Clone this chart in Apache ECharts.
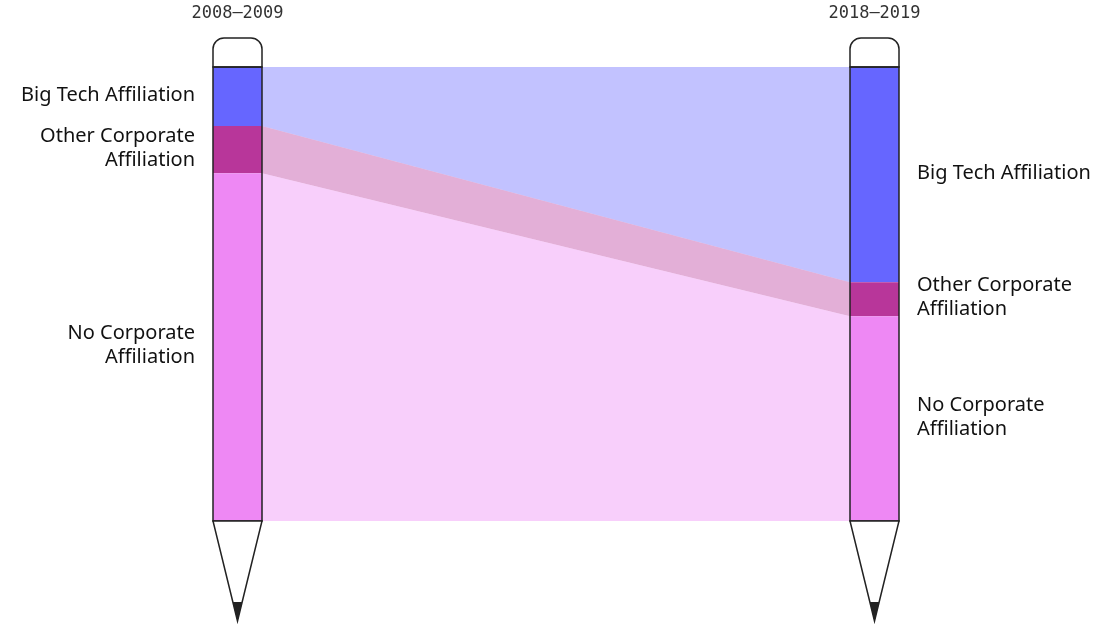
<!DOCTYPE html>
<html>
<head>
<meta charset="utf-8">
<script src="https://cdn.jsdelivr.net/npm/echarts@6/dist/echarts.min.js"></script>
<style>
    html, body { margin: 0; padding: 0; background: #ffffff; }
    #chart { width: 1101px; height: 628px; }
</style>
</head>
<body>
<div id="chart"></div>
<script>
    // periods on the x axis, one pencil each
    const periods = ['2008–2009', '2018–2019'];
    const categories = ['Big Tech Affiliation', 'Other Corporate Affiliation', 'No Corporate Affiliation'];
    const categoryLabels = ['Big Tech Affiliation', 'Other Corporate\nAffiliation', 'No Corporate\nAffiliation'];
    // share of papers (%) per category, top to bottom
    const share2008 = [13.0, 10.4, 76.6];
    const share2018 = [47.4, 7.5, 45.1];
    const colors = ['#6666ff', '#b8369a', '#ee88f4'];

    const shares = [share2008, share2018];
    const HALF = 24.5;      // half pencil width
    const INK = '#222222';

    // cumulative start/end of each stack segment
    const stacks = shares.map((s) => {
        let acc = 0;
        return s.map((v) => {
            const from = acc;
            acc += v;
            return [from, acc];
        });
    });

    const segData = [];
    periods.forEach((p, i) => {
        categories.forEach((c, j) => {
            segData.push([i, stacks[i][j][0], stacks[i][j][1], j]);
        });
    });

    const flowData = categories.map((c, j) => [stacks[0][j][0], stacks[0][j][1], stacks[1][j][0], stacks[1][j][1], j]);

    const myChart = echarts.init(document.getElementById('chart'));
    myChart.setOption({
        animation: false,
        grid: { left: 237.5, right: 226.5, top: 67, bottom: 107 },
        xAxis: {
            type: 'category',
            position: 'top',
            boundaryGap: false,
            data: periods,
            axisLine: { show: false },
            axisTick: { show: false },
            axisLabel: {
                margin: 45,
                fontFamily: 'DejaVu Sans Mono',
                fontSize: 17,
                color: '#333333'
            }
        },
        yAxis: {
            type: 'value',
            inverse: true,
            min: 0,
            max: 100,
            show: false
        },
        series: [
            {
                name: 'flows',
                type: 'custom',
                data: flowData,
                renderItem: function(params, api) {
                    const a0 = api.coord([0, api.value(0)]);
                    const a1 = api.coord([0, api.value(1)]);
                    const b0 = api.coord([1, api.value(2)]);
                    const b1 = api.coord([1, api.value(3)]);
                    return {
                        type: 'polygon',
                        shape: {
                            points: [
                                [a0[0] + HALF, a0[1]],
                                [b0[0] - HALF, b0[1]],
                                [b1[0] - HALF, b1[1]],
                                [a1[0] + HALF, a1[1]]
                            ]
                        },
                        style: { fill: colors[api.value(4)], opacity: 0.4 }
                    };
                }
            },
            {
                name: 'segments',
                type: 'custom',
                data: segData,
                renderItem: function(params, api) {
                    const i = api.value(0);
                    const j = api.value(3);
                    const top = api.coord([i, api.value(1)]);
                    const bot = api.coord([i, api.value(2)]);
                    const left = i === 0;
                    return {
                        type: 'group',
                        children: [
                            {
                                type: 'rect',
                                shape: { x: top[0] - HALF, y: top[1], width: HALF * 2, height: bot[1] - top[1] },
                                style: { fill: colors[j] }
                            },
                            {
                                type: 'text',
                                x: left ? top[0] - HALF - 18 : top[0] + HALF + 18,
                                y: (top[1] + bot[1]) / 2 - 1.5,
                                style: {
                                    text: categoryLabels[j],
                                    align: left ? 'right' : 'left',
                                    verticalAlign: 'middle',
                                    fontFamily: 'Noto Sans',
                                    fontSize: 20,
                                    lineHeight: 24,
                                    fill: '#111111'
                                }
                            }
                        ]
                    };
                }
            },
            {
                name: 'pencils',
                type: 'custom',
                data: periods.map((p, i) => [i, 0, 100]),
                renderItem: function(params, api) {
                    const i = api.value(0);
                    const top = api.coord([i, api.value(1)]);
                    const bot = api.coord([i, api.value(2)]);
                    const cx = top[0];
                    const tipY = bot[1] + 100;
                    const leadY = bot[1] + 81;
                    const leadHalf = HALF * 0.19;
                    return {
                        type: 'group',
                        children: [
                            {
                                type: 'rect',
                                shape: { x: cx - HALF, y: top[1] - 29, width: HALF * 2, height: 29, r: [11, 11, 0, 0] },
                                style: { fill: '#ffffff', stroke: INK, lineWidth: 1.5 }
                            },
                            {
                                type: 'rect',
                                shape: { x: cx - HALF, y: top[1], width: HALF * 2, height: bot[1] - top[1] },
                                style: { fill: 'none', stroke: INK, lineWidth: 1.5 }
                            },
                            {
                                type: 'polygon',
                                shape: { points: [[cx - HALF, bot[1]], [cx + HALF, bot[1]], [cx, tipY]] },
                                style: { fill: '#ffffff', stroke: INK, lineWidth: 1.5, lineJoin: 'miter' }
                            },
                            {
                                type: 'polygon',
                                shape: { points: [[cx - leadHalf, leadY], [cx + leadHalf, leadY], [cx, tipY]] },
                                style: { fill: INK }
                            }
                        ]
                    };
                }
            }
        ]
    });
</script>
</body>
</html>
